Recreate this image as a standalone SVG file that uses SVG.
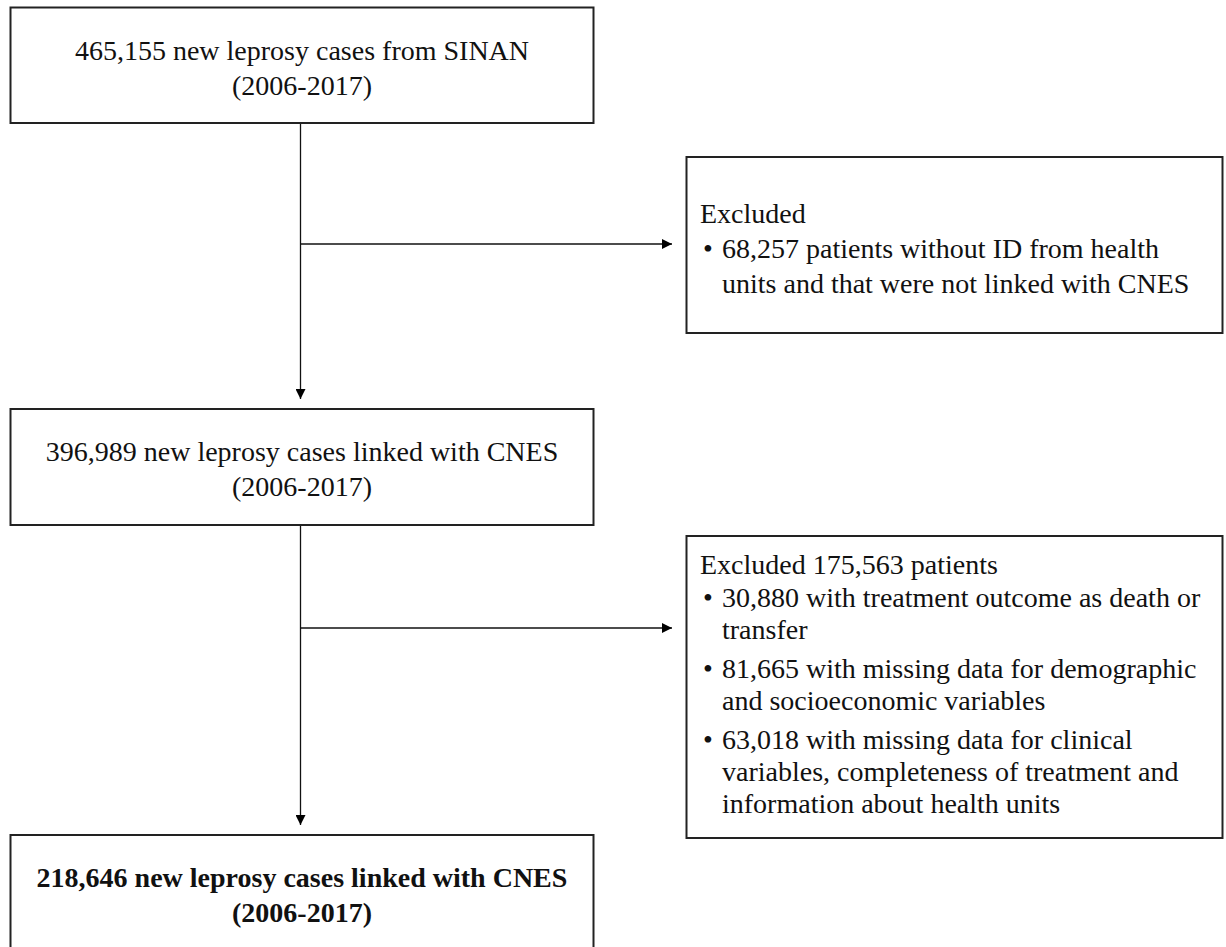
<svg xmlns="http://www.w3.org/2000/svg" width="1226" height="947" viewBox="0 0 1226 947">
  <defs>
    <marker id="arrow" viewBox="0 0 10 10" refX="10" refY="5" markerWidth="10" markerHeight="10" markerUnits="userSpaceOnUse" orient="auto">
      <path d="M0,0 L10,5 L0,10 Z" fill="#000"/>
    </marker>
    <style>
      .box { fill: #fff; stroke: #222; stroke-width: 2; }
      .t { font-family: "Liberation Serif", "Times New Roman", serif; font-size: 28px; fill: #111; }
      .c { text-anchor: middle; }
      .b { font-weight: bold; }
      .conn { stroke: #111; stroke-width: 1.3; fill: none; }
    </style>
  </defs>
  <rect width="1226" height="947" fill="#fff"/>

  <g id="connectors">
    <line class="conn" x1="300.5" y1="123" x2="300.5" y2="399" marker-end="url(#arrow)"/>
    <line class="conn" x1="300.5" y1="244" x2="672" y2="244" marker-end="url(#arrow)"/>
    <line class="conn" x1="300.5" y1="526" x2="300.5" y2="825" marker-end="url(#arrow)"/>
    <line class="conn" x1="300.5" y1="628" x2="672" y2="628" marker-end="url(#arrow)"/>
  </g>

  <g id="n-sinan">
    <rect class="box" x="10.5" y="7.5" width="583" height="115.5"/>
    <text class="t c" x="302" y="60">465,155 new leprosy cases from SINAN</text>
    <text class="t c" x="302" y="95">(2006-2017)</text>
  </g>

  <g id="n-excluded-1">
    <rect class="box" x="686.5" y="157" width="536" height="176"/>
    <text class="t" x="700" y="223">Excluded</text>
    <text class="t" x="703" y="258">•</text>
    <text class="t" x="722" y="258">68,257 patients without ID from health</text>
    <text class="t" x="722" y="293">units and that were not linked with CNES</text>
  </g>

  <g id="n-linked">
    <rect class="box" x="10.5" y="409" width="583" height="116"/>
    <text class="t c" x="302" y="461">396,989 new leprosy cases linked with CNES</text>
    <text class="t c" x="302" y="496">(2006-2017)</text>
  </g>

  <g id="n-excluded-2">
    <rect class="box" x="686.5" y="536" width="536" height="302"/>
    <text class="t" x="700" y="574">Excluded 175,563 patients</text>
    <text class="t" x="703" y="607">•</text>
    <text class="t" x="722" y="607">30,880 with treatment outcome as death or</text>
    <text class="t" x="722" y="639">transfer</text>
    <text class="t" x="703" y="678">•</text>
    <text class="t" x="722" y="678">81,665 with missing data for demographic</text>
    <text class="t" x="722" y="710">and socioeconomic variables</text>
    <text class="t" x="703" y="749">•</text>
    <text class="t" x="722" y="749">63,018 with missing data for clinical</text>
    <text class="t" x="722" y="781">variables, completeness of treatment and</text>
    <text class="t" x="722" y="813">information about health units</text>
  </g>

  <g id="n-final">
    <rect class="box" x="10.5" y="835" width="583" height="120"/>
    <text class="t c b" x="302" y="887">218,646 new leprosy cases linked with CNES</text>
    <text class="t c b" x="302" y="922">(2006-2017)</text>
  </g>
</svg>
